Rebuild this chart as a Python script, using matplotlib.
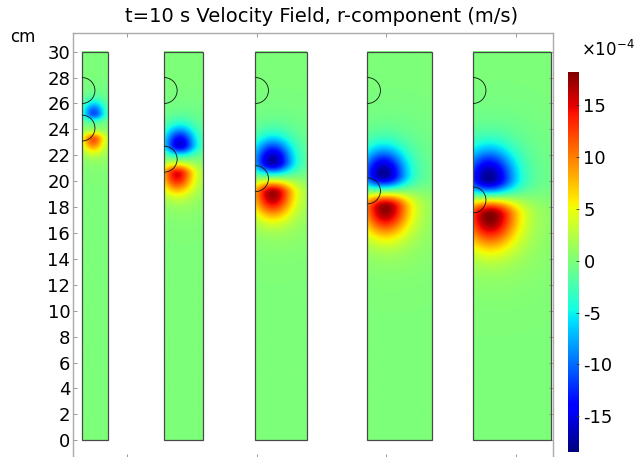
import numpy as np
import matplotlib
matplotlib.use("Agg")
import matplotlib.pyplot as plt
from matplotlib.patches import Arc

# ---------------- data (cm, velocity in 1e-4 m/s) ----------------
col_left = [6.5, 12.85, 19.9, 28.55, 36.7]
col_width = [2, 3, 4, 5, 6]
col_height = 30
top_cap_z = [27.0, 27.0, 27.0, 27.0, 27.0]
bubble_z = [24.1, 21.7, 20.2, 19.25, 18.55]
bubble_radius = 1.0

blue_r = [0.9, 1.2, 1.35, 1.25, 1.2]
blue_z = [25.2, 22.8, 21.5, 20.5, 20.2]
blue_peak = [-10, -14, -15.5, -16, -16]
red_r = [0.85, 1.0, 1.35, 1.4, 1.3]
red_z = [23.2, 20.5, 19.0, 17.9, 17.3]
red_peak = [10.5, 13.5, 15.5, 16, 16.5]
blob_sigma = [0.5, 0.72, 0.9, 1.05, 1.2]

y_ticks = list(range(0, 31, 2))
x_ticks = [10, 20, 30, 40]
cbar_ticks = [-15, -10, -5, 0, 5, 10, 15]
vmin, vmax = -18.4, 18.2

title = "t=10 s Velocity Field, r-component (m/s)"


def blob(r, z, r0, z0, sr, sz_up, sz_down):
    sz = np.where(z > z0, sz_up, sz_down)
    return np.exp(-0.5 * ((r - r0) / sr) ** 2 - 0.5 * ((z - z0) / sz) ** 2)


fig = plt.figure(figsize=(6.34, 4.57), dpi=100)
ax = fig.add_axes([73 / 634, -1 / 457, 480.3 / 634, 425 / 457])
ax.set_xlim(5.806, 42.90)
ax.set_ylim(-1.37, 31.44)

im = None
for i in range(5):
    w = col_width[i]
    r = np.linspace(0, w, int(w * 40) + 1)
    z = np.linspace(0, col_height, col_height * 40 + 1)
    R, Z = np.meshgrid(r, z)
    s = blob_sigma[i]
    gb = blob(R, Z, blue_r[i], blue_z[i], 1.15 * s, 1.3 * s, 0.75 * s)
    gr = blob(R, Z, red_r[i], red_z[i], 1.2 * s, 0.75 * s, 1.4 * s)
    hb = blob(R, Z, blue_r[i] + 0.5, blue_z[i], 2.4 * s, 2.6 * s, 0.9 * s)
    hr = blob(R, Z, red_r[i] + 0.5, red_z[i], 2.4 * s, 0.9 * s, 2.8 * s)
    field = (blue_peak[i] * (gb + 0.12 * hb) + red_peak[i] * (gr + 0.12 * hr))
    x0 = col_left[i]
    im = ax.imshow(field, extent=[x0, x0 + w, 0, col_height], origin="lower",
                   cmap="jet", vmin=vmin, vmax=vmax, interpolation="bilinear",
                   aspect="auto", zorder=1)
    ax.add_patch(plt.Rectangle((x0, 0), w, col_height, fill=False,
                               edgecolor="#4a4a4a", lw=0.9, zorder=3))
    for zc in (top_cap_z[i], bubble_z[i]):
        ax.add_patch(Arc((x0, zc), 2 * bubble_radius, 2 * bubble_radius,
                         theta1=-90, theta2=90, color="#111111", lw=0.6, zorder=4))

ax.set_yticks(y_ticks)
ax.set_yticklabels([str(t) for t in y_ticks], fontsize=13)
ax.set_xticks(x_ticks)
ax.set_xticklabels([])
ax.tick_params(axis="both", direction="in", length=3, width=0.6, color="#888888",
               top=True, right=True, pad=2)
for sp in ax.spines.values():
    sp.set_color("#aaaaaa")
    sp.set_linewidth(1.0)

fig.text(10 / 634, 1 - 42 / 457, "cm", fontsize=12, ha="left", va="baseline")
fig.text(322 / 634, 1 - 16 / 457, title, fontsize=14, ha="center", va="center")

cax = fig.add_axes([568.3 / 634, 1 - 451.7 / 457, 11 / 634, 380 / 457])
cb = fig.colorbar(im, cax=cax, ticks=cbar_ticks)
cb.outline.set_linewidth(0)
cb.ax.tick_params(labelsize=13, direction="in", length=2, width=0.6, color="#333333", pad=3)
cb.ax.set_yticklabels([str(t) for t in cbar_ticks])
fig.text(581 / 634, 1 - 56 / 457, r"$\times10^{-4}$", fontsize=12, ha="left", va="baseline")

fig.savefig("out.png", dpi=100)
